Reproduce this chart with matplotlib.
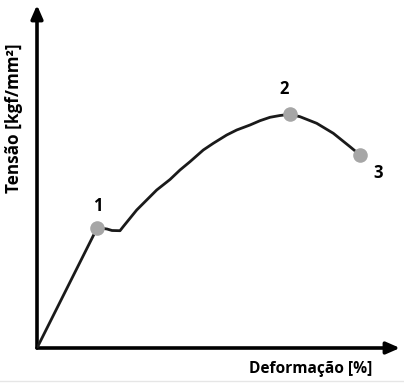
import matplotlib
matplotlib.use("Agg")
import matplotlib.pyplot as plt
from matplotlib.lines import Line2D

# Data (arbitrary units)
strain = [0, 60.3, 70, 75, 83, 86.3, 99.7, 119.7, 133, 143, 153, 166.3, 176.3, 189.7, 199.7,
          213, 223, 233, 243, 253, 263, 279.7, 296.3, 313, 323]
stress = [0, 120.3, 119, 117.5, 117.3, 121.5, 138, 158, 168.5, 178, 186.3, 198, 204.7, 213, 218,
          223, 227.3, 230.7, 232.5, 233.7, 231.3, 224.7, 214.7, 201.3, 193]
point_x = [60.3, 253, 323]
point_y = [120.3, 233.7, 193]
point_labels = ["1", "2", "3"]
label_offsets = [(0, 22), (-6, 25), (18, -18)]

W, H = 404, 387
fig = plt.figure(figsize=(W / 100, H / 100), dpi=100)
fig.patch.set_facecolor("white")
x0, y0, x1, y1 = 37, 348, 400, 5
ax = fig.add_axes([x0 / W, (H - y0) / H, (x1 - x0) / W, (y0 - y1) / H])
ax.set_xlim(0, x1 - x0)
ax.set_ylim(0, y0 - y1)
ax.axis("off")

font = ["Open Sans", "DejaVu Sans"]

# axes with arrows
ax.annotate("", xy=(0, 343), xytext=(0, 0),
            arrowprops=dict(arrowstyle="-|>,head_length=0.8,head_width=0.35", lw=2.6, color="black",
                            shrinkA=0, shrinkB=0))
ax.annotate("", xy=(363, 0), xytext=(0, 0),
            arrowprops=dict(arrowstyle="-|>,head_length=0.8,head_width=0.35", lw=2.6, color="black",
                            shrinkA=0, shrinkB=0))

ax.plot(strain, stress, color="#1a1a1a", lw=2.0, solid_capstyle="round",
        solid_joinstyle="round", zorder=3)
ax.plot(point_x, point_y, "o", color="#a6a6a6", markersize=10.5, markeredgewidth=0, zorder=4)

for (px, py), lab, (dx, dy) in zip(zip(point_x, point_y), point_labels, label_offsets):
    ax.text(px + dx, py + dy, lab, ha="center", va="center", fontsize=12,
            fontweight="bold", family=font, color="black")

fig.text(14 / W, 1 - 118 / H, "Tensão [kgf/mm²]", rotation=90, ha="center", va="center",
         fontsize=12.3, fontweight="bold", family=font)
fig.text(311 / W, 1 - 369 / H, "Deformação [%]", ha="center", va="center",
         fontsize=11.2, fontweight="bold", family=font)

fig.add_artist(Line2D([0, 1], [1 - 381 / H, 1 - 381 / H], transform=fig.transFigure,
                      color="#e6e6e6", lw=1))

fig.savefig("out.png", dpi=100, facecolor="white")
